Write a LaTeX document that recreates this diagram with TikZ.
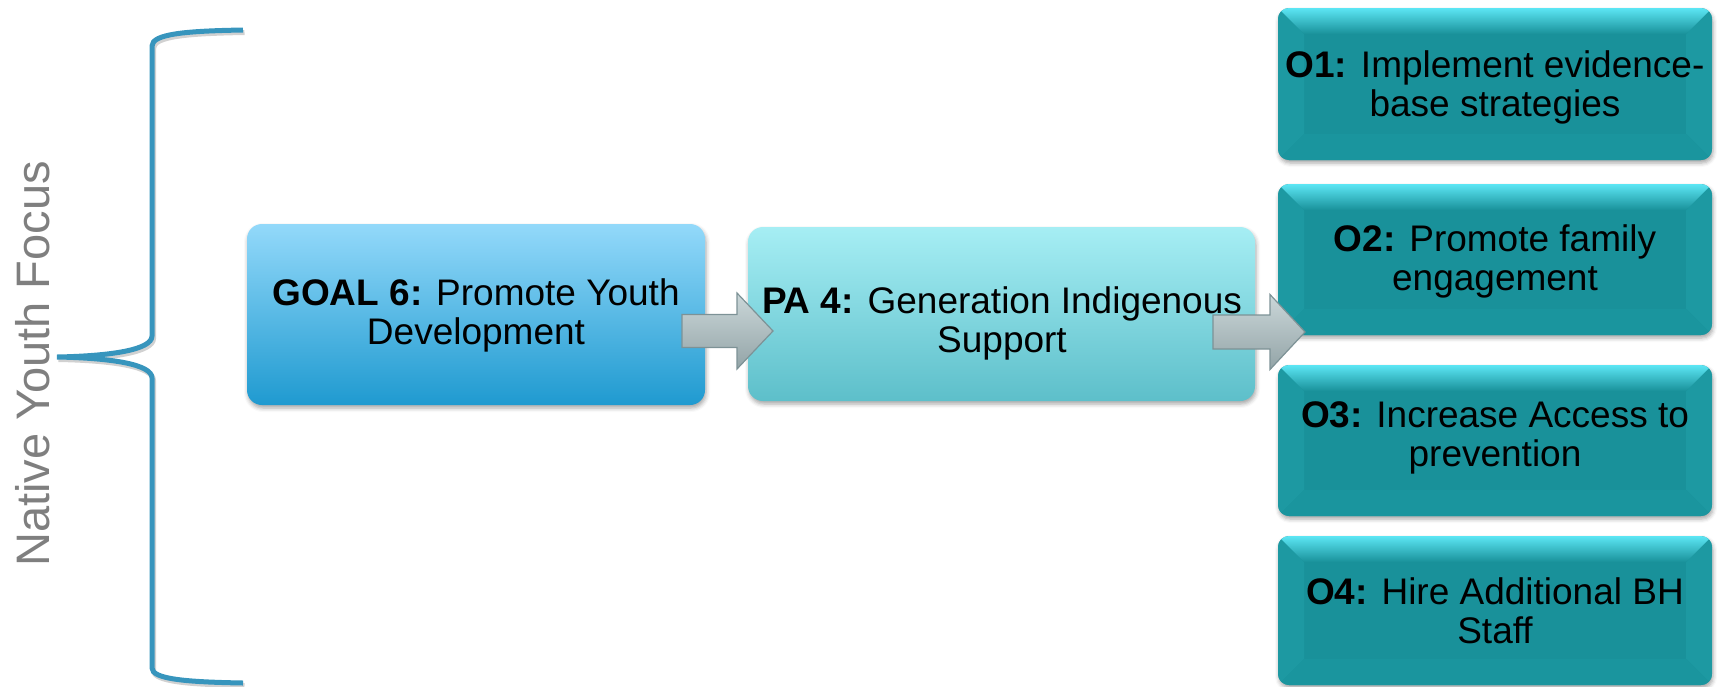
\documentclass[tikz,border=0pt]{standalone}
\usepackage{fontspec}
\setmainfont{Liberation Sans}
\usetikzlibrary{shadows.blur,calc}
\definecolor{braceblue}{HTML}{3795BD}
\definecolor{goaltop}{HTML}{93D9FA}
\definecolor{goalbot}{HTML}{1F9AD0}
\definecolor{patop}{HTML}{A6EEF4}
\definecolor{pabot}{HTML}{5DBFCA}
\definecolor{oface}{HTML}{19919A}
\definecolor{ocyan}{HTML}{5CE6F4}
\definecolor{oside}{HTML}{1D99A2}
\definecolor{obottom}{HTML}{1A959E}
\definecolor{arrtop}{HTML}{CBD7D9}
\definecolor{arrbot}{HTML}{93A4A7}
\definecolor{arrline}{HTML}{7D9296}
\definecolor{labelgray}{HTML}{7F7F7F}

\newcommand\obevel[1]{%
  \begin{scope}
    \clip[rounded corners=11pt] (#1.north west) rectangle (#1.south east);
    \fill[oside] (#1.north west) -- ($(#1.north west)+(26,26)$) -- ($(#1.south west)+(26,-26)$) -- (#1.south west) -- cycle;
    \fill[oside] (#1.north east) -- ($(#1.north east)+(-26,26)$) -- ($(#1.south east)+(-26,-26)$) -- (#1.south east) -- cycle;
    \fill[obottom] (#1.south west) -- ($(#1.south west)+(26,-26)$) -- ($(#1.south east)+(-26,-26)$) -- (#1.south east) -- cycle;
    \shade[top color=ocyan, bottom color=oface] (#1.north west) -- (#1.north east) -- ($(#1.north east)+(-26,26)$) -- ($(#1.north west)+(26,26)$) -- cycle;
  \end{scope}}

\begin{document}
\begin{tikzpicture}[x=1pt,y=-1pt,
  boxtext/.style={font=\fontsize{37}{39}\selectfont, align=center, inner sep=0pt, text=black},
  softshadow/.style={blur shadow={shadow xshift=1pt, shadow yshift=-3pt, shadow blur radius=4pt, shadow opacity=35}},
  goalbox/.style={rectangle, rounded corners=15pt, top color=goaltop, bottom color=goalbot, softshadow, inner sep=0pt, outer sep=0pt},
  pabox/.style={rectangle, rounded corners=15pt, top color=patop, bottom color=pabot, softshadow, inner sep=0pt, outer sep=0pt},
  obox/.style={rectangle, rounded corners=11pt, fill=oface, softshadow, inner sep=0pt, outer sep=0pt, minimum width=434pt},
  blockarrow/.style={top color=arrtop, bottom color=arrbot, draw=arrline, line width=1.2pt, line join=miter},
  bracestyle/.style={draw=braceblue, line width=5pt,
    preaction={draw=black, opacity=0.18, line width=5pt, transform canvas={shift={(1.5pt,-2.5pt)}}}}
]
\useasboundingbox (0,0) rectangle (1717,686);

% brace and its label
\draw[bracestyle] (243,30) .. controls (185,31) and (152,34) .. (152,46) -- (152,336)
  .. controls (152,350) and (110,356) .. (57,357)
  .. controls (110,358) and (152,364) .. (152,378) -- (152,668)
  .. controls (152,679) and (185,682) .. (243,683);
\node[font=\fontsize{47}{50}\selectfont, text=labelgray, rotate=90, anchor=base, inner sep=0pt] (nyf) at (49,364) {Native Youth Focus};

% main boxes
\node[goalbox, minimum width=458pt, minimum height=181pt] (goal) at (476,314.5) {};
\node[pabox, minimum width=507pt, minimum height=174pt] (pa) at (1001.5,314) {};

% objective boxes
\node[obox, minimum height=152pt] (o1) at (1495,84) {};
\node[obox, minimum height=151pt] (o2) at (1495,259.5) {};
\node[obox, minimum height=151pt] (o3) at (1495,440.5) {};
\node[obox, minimum height=149pt] (o4) at (1495,610.5) {};
\obevel{o1}
\obevel{o2}
\obevel{o3}
\obevel{o4}

% texts
\node[boxtext] (goalt) at (476,315) {\textbf{GOAL 6:} Promote Youth\\Development};
\node[boxtext] (pat) at (1002,323) {\textbf{PA 4:} Generation Indigenous\\Support};
\node[boxtext] (o1t) at ($(o1.center)+(0,3)$) {\textbf{O1:} Implement evidence-\\base strategies};
\node[boxtext] (o2t) at ($(o2.center)+(0,2)$) {\textbf{O2:} Promote family\\engagement};
\node[boxtext] (o3t) at ($(o3.center)+(0,-3)$) {\textbf{O3:} Increase Access to\\prevention};
\node[boxtext] (o4t) at (o4.center) {\textbf{O4:} Hire Additional BH\\Staff};

% block arrows (from goal to pa, from pa to objectives)
\coordinate (a1) at ($(goal.east)+(-23,16.5)$);
\coordinate (a2) at ($(pa.east)+(-42,18)$);
\draw[blockarrow] (a1) ++(0,-16.5) -- ++(55,0) -- ++(0,-21.5) -- ++(36,38) -- ++(-36,38) -- ++(0,-21.5) -- ++(-55,0) -- cycle;
\draw[blockarrow] (a2) ++(0,-17) -- ++(57,0) -- ++(0,-20.5) -- ++(35,37.5) -- ++(-35,37.5) -- ++(0,-20.5) -- ++(-57,0) -- cycle;
\end{tikzpicture}
\end{document}
